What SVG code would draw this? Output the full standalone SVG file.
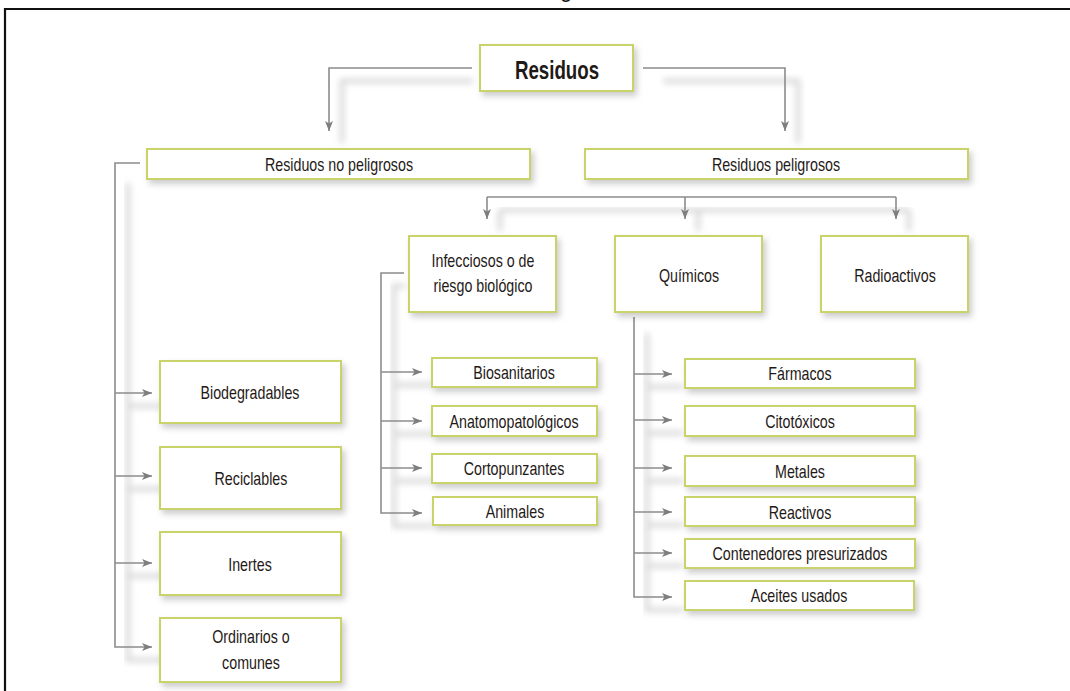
<svg xmlns="http://www.w3.org/2000/svg" width="1070" height="691" viewBox="0 0 1070 691">
<style>
.box{fill:#fff;stroke:#c9d36b;stroke-width:2;filter:url(#bs)}
.t{font-family:"Liberation Sans",Arial,sans-serif;font-size:19px;fill:#1f1a17;text-anchor:middle;transform-box:fill-box;transform-origin:center;transform:scaleX(0.75)}
.tb{font-family:"Liberation Sans",Arial,sans-serif;font-size:26px;font-weight:bold;fill:#1f1a17;text-anchor:middle;transform-box:fill-box;transform-origin:center;transform:scaleX(0.72)}
.c{fill:none;stroke:#8c8c8c;stroke-width:1.6}
.a{marker-end:url(#ar)}
.sh{fill:none;stroke:#dadada;stroke-width:5;filter:url(#blur)}
</style>
<defs>
<filter id="bs" x="-20%" y="-30%" width="140%" height="170%">
<feDropShadow dx="3" dy="4" stdDeviation="3" flood-color="#000" flood-opacity="0.2"/>
</filter>
<filter id="blur" x="-10%" y="-10%" width="120%" height="120%">
<feGaussianBlur stdDeviation="3"/>
</filter>
<marker id="ar" viewBox="0 0 10 10" refX="10" refY="5" markerWidth="10" markerHeight="10" markerUnits="userSpaceOnUse" orient="auto">
<path d="M0,1 L10,5 L0,9 L2.5,5 Z" fill="#7e7e7e"/>
</marker>
</defs>
<rect width="1070" height="691" fill="#fff"/>
<path d="M5,691 V9 H1070" fill="none" stroke="#111" stroke-width="2.2"/>
<text x="560" y="-3" font-family="Liberation Sans,Arial,sans-serif" font-size="22" fill="#111">g</text>

<g id="connectors">
<g id="shadows" transform="translate(13,13)">
<path class="sh" d="M460,68 H329 V130"/>
<path class="sh" d="M650,68 H785 V130"/>
<path class="sh" d="M115,170 V647 H150 M115,393 H150 M115,476 H150 M115,563 H150"/>
<path class="sh" d="M487,197 H896 M487,197 V218 M685,197 V218 M896,197 V218"/>
<path class="sh" d="M392,273 H381 V513 H420 M381,372 H420 M381,421 H420 M381,468 H420"/>
<path class="sh" d="M634,320 V597 H670 M634,374 H670 M634,420 H670 M634,468 H670 M634,512 H670 M634,553 H670"/>
</g>
<path class="c" d="M472,68 H329 V131" marker-end="url(#ar)"/>
<path class="c" d="M643,68 H785 V131" marker-end="url(#ar)"/>
<path class="c" d="M140,163 H115 V647 H152" marker-end="url(#ar)"/>
<path class="c a" d="M115,393 H152"/>
<path class="c a" d="M115,476 H152"/>
<path class="c a" d="M115,563 H152"/>
<path class="c" d="M487,197 H896"/>
<path class="c a" d="M487,197 V219"/>
<path class="c a" d="M685,197 V219"/>
<path class="c a" d="M896,197 V219"/>
<path class="c" d="M404,273 H381 V513 H422" marker-end="url(#ar)"/>
<path class="c a" d="M381,372 H422"/>
<path class="c a" d="M381,421 H422"/>
<path class="c a" d="M381,468 H422"/>
<path class="c" d="M634,317 V597 H672" marker-end="url(#ar)"/>
<path class="c a" d="M634,374 H672"/>
<path class="c a" d="M634,420 H672"/>
<path class="c a" d="M634,468 H672"/>
<path class="c a" d="M634,512 H672"/>
<path class="c a" d="M634,553 H672"/>
</g>

<g id="residuos"><rect class="box" x="480" y="45" width="153" height="46"/><text class="tb" x="557" y="79">Residuos</text></g>
<g id="no-peligrosos"><rect class="box" x="147" y="149" width="383" height="30"/><text class="t" x="339" y="171">Residuos no peligrosos</text></g>
<g id="peligrosos"><rect class="box" x="585" y="149" width="383" height="30"/><text class="t" x="776" y="171">Residuos peligrosos</text></g>

<g id="biodegradables"><rect class="box" x="160" y="361" width="181" height="62"/><text class="t" x="250" y="399">Biodegradables</text></g>
<g id="reciclables"><rect class="box" x="160" y="447" width="181" height="62"/><text class="t" x="251" y="485">Reciclables</text></g>
<g id="inertes"><rect class="box" x="160" y="532" width="181" height="63"/><text class="t" x="250" y="571">Inertes</text></g>
<g id="ordinarios"><rect class="box" x="160" y="618" width="181" height="64"/><text class="t" x="251" y="643">Ordinarios o</text><text class="t" x="251" y="669">comunes</text></g>

<g id="infecciosos"><rect class="box" x="409" y="236" width="147" height="76"/><text class="t" x="483" y="267">Infecciosos o de</text><text class="t" x="483" y="292">riesgo biológico</text></g>
<g id="quimicos"><rect class="box" x="615" y="236" width="147" height="76"/><text class="t" x="689" y="282">Químicos</text></g>
<g id="radioactivos"><rect class="box" x="821" y="236" width="147" height="76"/><text class="t" x="895" y="282">Radioactivos</text></g>

<g id="biosanitarios"><rect class="box" x="432" y="358" width="165" height="29"/><text class="t" x="514" y="379">Biosanitarios</text></g>
<g id="anatomopatologicos"><rect class="box" x="432" y="406" width="165" height="30"/><text class="t" x="514" y="428">Anatomopatológicos</text></g>
<g id="cortopunzantes"><rect class="box" x="432" y="454" width="165" height="29"/><text class="t" x="514" y="475">Cortopunzantes</text></g>
<g id="animales"><rect class="box" x="433" y="497" width="164" height="28"/><text class="t" x="515" y="518">Animales</text></g>

<g id="farmacos"><rect class="box" x="685" y="359" width="230" height="29"/><text class="t" x="800" y="380">Fármacos</text></g>
<g id="citotoxicos"><rect class="box" x="685" y="406" width="230" height="30"/><text class="t" x="800" y="428">Citotóxicos</text></g>
<g id="metales"><rect class="box" x="685" y="456" width="230" height="30"/><text class="t" x="800" y="478">Metales</text></g>
<g id="reactivos"><rect class="box" x="685" y="497" width="230" height="29"/><text class="t" x="800" y="519">Reactivos</text></g>
<g id="contenedores"><rect class="box" x="685" y="539" width="230" height="29"/><text class="t" x="800" y="560">Contenedores presurizados</text></g>
<g id="aceites"><rect class="box" x="685" y="581" width="229" height="29"/><text class="t" x="799" y="602">Aceites usados</text></g>
</svg>
